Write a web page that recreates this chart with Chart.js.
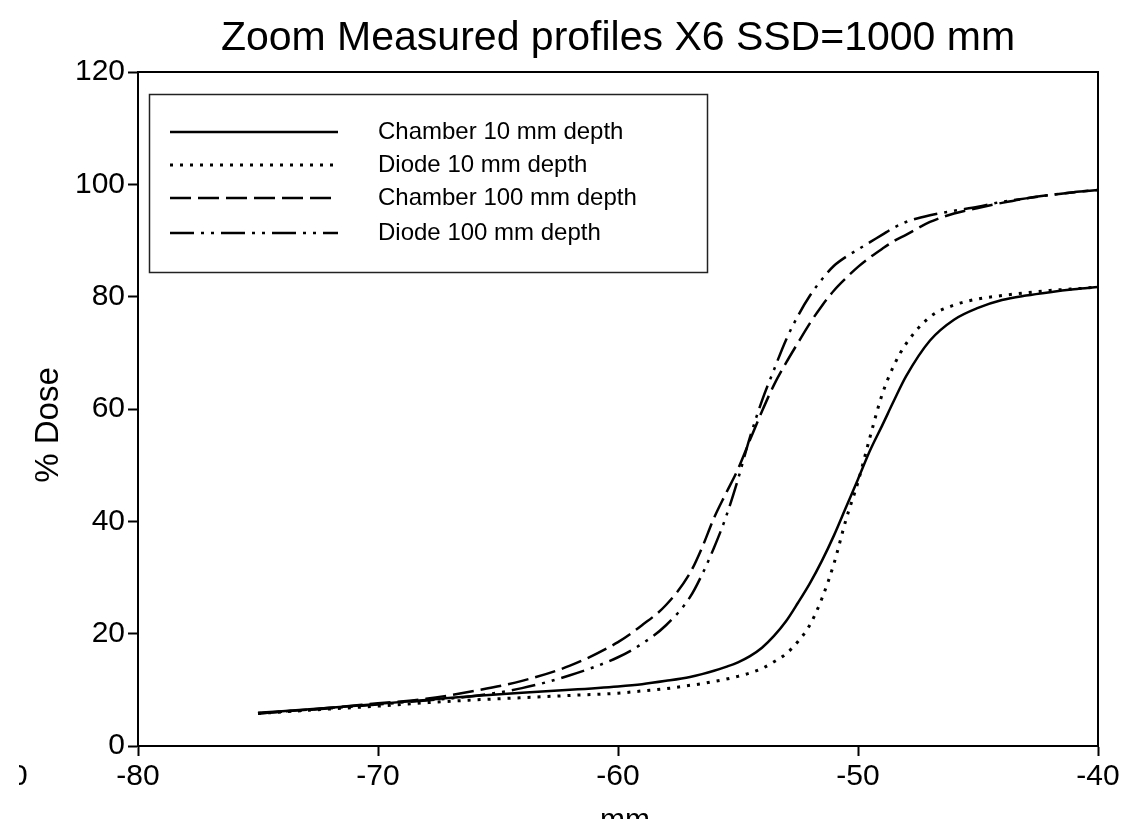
<!DOCTYPE html>
<html>
<head>
<meta charset="utf-8">
<script src="https://cdn.jsdelivr.net/npm/chart.js@4.4.1/dist/chart.umd.min.js"></script>
<style>
  html, body { margin: 0; padding: 0; background: #fff; }
  canvas { display: block; }
</style>
</head>
<body>
<canvas id="profileChart" width="1128" height="819"></canvas>
<script>
// position across the field edge (mm)
const positions = [-75, -72, -70, -68, -66, -64, -62, -60, -59, -58, -57, -56.5, -56, -55.5, -55, -54.5, -54, -53.5, -53, -52.5, -52, -51.5, -51, -50.5, -50, -49.5, -49, -48.5, -48, -47, -46, -45, -44, -43, -42, -41, -40];

// % dose
const chamber10 = [5.9, 6.8, 7.5, 8.2, 8.9, 9.5, 10.0, 10.6, 11.0, 11.6, 12.3, 12.8, 13.4, 14.1, 14.9, 16.0, 17.5, 19.6, 22.2, 25.5, 29.0, 33.0, 37.5, 42.5, 47.5, 52.6, 57.0, 61.5, 65.8, 72.2, 75.9, 78.0, 79.4, 80.2, 80.8, 81.3, 81.7];
const diode10 = [5.8, 6.6, 7.1, 7.7, 8.2, 8.6, 9.0, 9.4, 9.8, 10.2, 10.8, 11.1, 11.5, 11.9, 12.4, 13.0, 13.8, 15.0, 16.4, 18.6, 21.6, 26.3, 32.5, 40.3, 47.0, 55.0, 62.5, 67.8, 71.6, 76.4, 78.5, 79.6, 80.2, 80.7, 81.1, 81.4, 81.7];
const chamber100 = [5.8, 6.8, 7.6, 8.4, 9.8, 11.6, 14.3, 18.5, 21.5, 25.1, 30.8, 35.3, 40.6, 45.0, 49.3, 54.5, 59.6, 64.3, 68.2, 71.8, 75.3, 78.4, 81.1, 83.3, 85.3, 87.0, 88.5, 89.9, 91.0, 93.3, 94.8, 95.8, 96.7, 97.5, 98.1, 98.6, 99.0];
const diode100 = [5.8, 6.7, 7.4, 8.1, 8.9, 10.3, 12.6, 15.8, 18.2, 21.5, 26.5, 30.5, 35.3, 40.8, 47.5, 55.0, 61.5, 67.0, 72.3, 76.6, 80.2, 83.1, 85.5, 87.1, 88.4, 89.7, 91.0, 92.3, 93.3, 94.5, 95.3, 96.0, 96.9, 97.5, 98.1, 98.6, 99.0];

const seriesNames = ['Chamber 10 mm depth', 'Diode 10 mm depth', 'Chamber 100 mm depth', 'Diode 100 mm depth'];
const xTicks = [-80, -70, -60, -50, -40];
const yTicks = [0, 20, 40, 60, 80, 100, 120];

const FONT = '"Liberation Sans", Arial, sans-serif';

function toPoints(ys) {
  return positions.map((x, i) => ({ x: x, y: ys[i] }));
}

// frame, boxed legend, axis titles and the clipped stray label
const framePlugin = {
  id: 'frameAndLegend',
  afterDraw(chart) {
    const { ctx, chartArea } = chart;
    ctx.save();
    ctx.strokeStyle = '#000';
    ctx.lineWidth = 2;
    ctx.beginPath();
    ctx.moveTo(chartArea.left, chartArea.top);
    ctx.lineTo(chartArea.right, chartArea.top);
    ctx.lineTo(chartArea.right, chartArea.bottom);
    ctx.stroke();

    // legend box
    ctx.lineWidth = 1.5;
    ctx.strokeStyle = '#222';
    ctx.strokeRect(149.5, 94.5, 558, 178);

    ctx.font = '24px ' + FONT;
    ctx.fillStyle = '#000';
    ctx.textBaseline = 'middle';
    const rows = [132, 165, 198, 233];
    chart.data.datasets.forEach((ds, i) => {
      ctx.save();
      ctx.strokeStyle = '#000';
      ctx.lineWidth = ds.borderWidth;
      ctx.setLineDash(ds.borderDash || []);
      ctx.beginPath();
      ctx.moveTo(170, rows[i]);
      ctx.lineTo(338, rows[i]);
      ctx.stroke();
      ctx.restore();
      ctx.fillText(ds.label, 378, rows[i]);
    });

    // axis titles
    ctx.textAlign = 'center';
    ctx.font = '33px ' + FONT;
    ctx.save();
    ctx.translate(49, 425);
    ctx.rotate(-Math.PI / 2);
    ctx.fillText('% Dose', 0, 0);
    ctx.restore();

    ctx.font = '30px ' + FONT;
    ctx.textBaseline = 'alphabetic';
    ctx.fillText('mm', 625, 829);

    // half a "0" cut off at the left edge
    ctx.save();
    ctx.beginPath();
    ctx.rect(19, 740, 30, 60);
    ctx.clip();
    ctx.font = '30px ' + FONT;
    ctx.textAlign = 'left';
    ctx.textBaseline = 'middle';
    ctx.fillText('0', 11, 777);
    ctx.restore();
    ctx.restore();
  }
};

const ctx = document.getElementById('profileChart').getContext('2d');

const profileChart = new Chart(ctx, {
  type: 'line',
  data: {
    datasets: [
      { label: seriesNames[0], data: toPoints(chamber10), borderDash: [], borderWidth: 2.5 },
      { label: seriesNames[1], data: toPoints(diode10), borderDash: [3, 7], borderWidth: 3 },
      { label: seriesNames[2], data: toPoints(chamber100), borderDash: [21, 7], borderWidth: 2.5 },
      { label: seriesNames[3], data: toPoints(diode100), borderDash: [24, 7, 3, 7, 3, 7], borderWidth: 2.5 }
    ].map(ds => Object.assign(ds, {
      borderColor: '#000',
      backgroundColor: '#000',
      pointRadius: 0,
      fill: false,
      cubicInterpolationMode: 'monotone'
    }))
  },
  options: {
    responsive: false,
    animation: false,
    devicePixelRatio: 1,
    layout: { padding: { left: 0, right: 30, top: 0, bottom: 0 } },
    plugins: {
      legend: { display: false },
      tooltip: { enabled: false },
      title: {
        display: true,
        fullSize: false,
        text: 'Zoom Measured profiles X6 SSD=1000 mm',
        color: '#000',
        font: { family: FONT, size: 41, weight: 'normal', lineHeight: 1.2 },
        padding: { top: 14, bottom: 8.8 }
      }
    },
    scales: {
      x: {
        type: 'linear',
        min: -80,
        max: -40,
        afterBuildTicks: (scale) => { scale.ticks = xTicks.map(v => ({ value: v })); },
        afterFit: (scale) => { scale.height = 73; },
        border: { display: true, color: '#000', width: 2 },
        grid: { display: true, drawOnChartArea: false, drawTicks: true, tickLength: 10, tickColor: '#000', tickWidth: 2 },
        ticks: { color: '#000', padding: 3, maxRotation: 0, font: { family: FONT, size: 30 } }
      },
      y: {
        min: 0,
        max: 120,
        afterBuildTicks: (scale) => { scale.ticks = yTicks.map(v => ({ value: v })); },
        afterFit: (scale) => { scale.width = 138; },
        border: { display: true, color: '#000', width: 2 },
        grid: { display: true, drawOnChartArea: false, drawTicks: true, tickLength: 10, tickColor: '#000', tickWidth: 2 },
        ticks: { color: '#000', padding: 3, font: { family: FONT, size: 30 } }
      }
    }
  },
  plugins: [framePlugin]
});
</script>
</body>
</html>
